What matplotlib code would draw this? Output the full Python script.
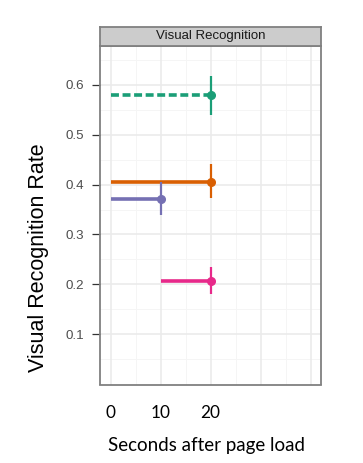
import matplotlib
matplotlib.use("Agg")
import matplotlib.pyplot as plt

# data
series_names = ["green", "orange", "purple", "pink"]
x_start = [0, 0, 0, 10]
x_end = [20, 20, 10, 20]
rate = [0.579, 0.406, 0.372, 0.207]
err_low = [0.539, 0.373, 0.338, 0.180]
err_high = [0.618, 0.441, 0.405, 0.234]
colors = ["#1B9E77", "#D95F02", "#7570B3", "#E7298A"]
styles = ["--", "-", "-", "-"]

y_ticks = [0.1, 0.2, 0.3, 0.4, 0.5, 0.6]
y_tick_labels = ["0.1", "0.2", "0.3", "0.4", "0.5", "0.6"]
x_tick_vals = [0, 10, 20]
x_tick_labels = ["0", "10", "20"]
x_major_grid = [0, 10, 20, 30, 40]
x_minor_grid = [5, 15, 25, 35]
y_minor_grid = [0.05, 0.15, 0.25, 0.35, 0.45, 0.55, 0.65]

W, H = 363, 463
fig = plt.figure(figsize=(W / 100, H / 100), dpi=100)

left, right, top, bottom = 100, 321, 46, 384.5
ax = fig.add_axes([left / W, 1 - bottom / H, (right - left) / W, (bottom - top) / H])
ax.set_xlim(-2.1, 42.1)
ax.set_ylim(-0.001, 0.678)

for v in x_minor_grid:
    ax.axvline(v, color="#F5F5F5", lw=0.7, zorder=0)
for v in y_minor_grid:
    ax.axhline(v, color="#F5F5F5", lw=0.7, zorder=0)
for v in x_major_grid:
    ax.axvline(v, color="#EBEBEB", lw=1.2, zorder=0)
for v in y_ticks:
    ax.axhline(v, color="#EBEBEB", lw=1.2, zorder=0)

for xs, xe, r, lo, hi, c, ls in zip(x_start, x_end, rate, err_low, err_high, colors, styles):
    if ls == "--":
        ax.plot([xs, xe], [r, r], color=c, lw=2.6, ls=(0, (2.2, 1.0)), zorder=3)
    else:
        ax.plot([xs, xe], [r, r], color=c, lw=2.6, zorder=3, solid_capstyle="butt")
    ax.plot([xe, xe], [lo, hi], color=c, lw=1.6, zorder=3, solid_capstyle="butt")
    ax.plot([xe], [r], "o", color=c, ms=5.5, zorder=4)

for s in ax.spines.values():
    s.set_color("#808080")
    s.set_linewidth(1.3)

ax.set_yticks(y_ticks)
ax.set_yticklabels(y_tick_labels, fontsize=9.6, color="#4D4D4D", family="Liberation Sans")
ax.tick_params(axis="y", length=5.5, width=0.9, color="#333333", pad=6)
ax.set_xticks(x_tick_vals)
ax.set_xticklabels(x_tick_labels, fontsize=12.4, family="Lato", color="black")
ax.tick_params(axis="x", length=0, pad=15)

ax.set_ylabel("Visual Recognition Rate", fontsize=15.5, family="Liberation Sans")
ax.yaxis.set_label_coords(-(left - 38.5) / (right - left), (bottom - 258) / (bottom - top))
ax.set_xlabel("Seconds after page load", fontsize=13.5, family="Lato")
ax.xaxis.set_label_coords((206 - left) / (right - left), -(446 - bottom) / (bottom - top))
ax.xaxis.label.set_va("center")
ax.yaxis.label.set_va("center")

# strip
sax = fig.add_axes([left / W, 1 - 46 / H, (right - left) / W, 19.5 / H])
sax.set_xticks([])
sax.set_yticks([])
sax.set_facecolor("#CCCCCC")
for s in sax.spines.values():
    s.set_color("#808080")
    s.set_linewidth(1.3)
sax.text(0.5, 0.5, "Visual Recognition", ha="center", va="center", fontsize=9.5,
         family="Liberation Sans", color="#1A1A1A", transform=sax.transAxes)

fig.savefig("out.png", dpi=100)
